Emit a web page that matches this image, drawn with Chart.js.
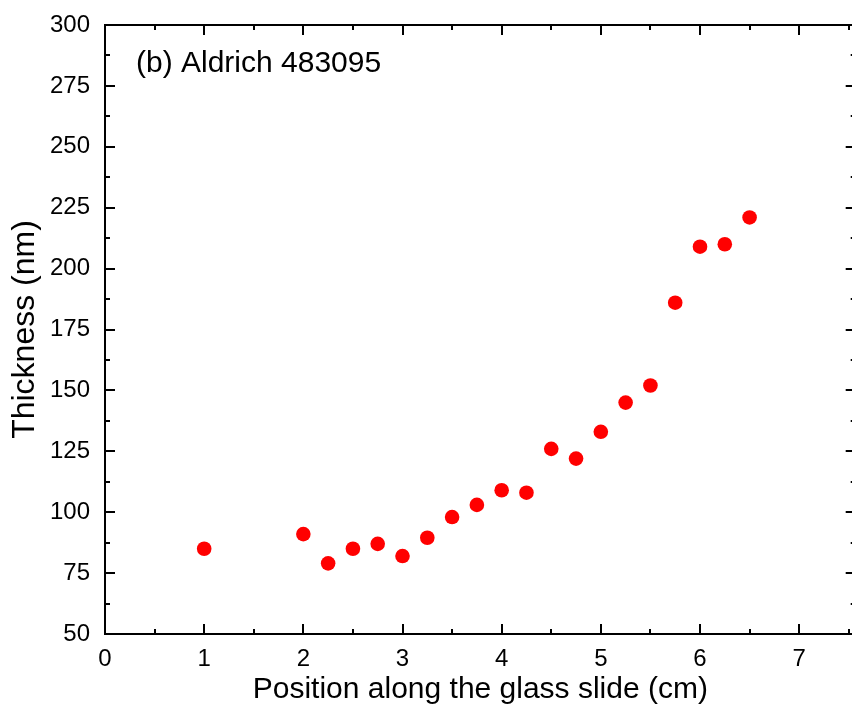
<!DOCTYPE html>
<html>
<head>
<meta charset="utf-8">
<script src="https://cdn.jsdelivr.net/npm/chart.js@4.4.1/dist/chart.umd.min.js"></script>
<style>
  html, body { margin: 0; padding: 0; background: #fff; overflow: hidden; }
  #wrap { width: 852px; height: 722px; overflow: hidden; }
</style>
</head>
<body>
<div id="wrap"><canvas id="thicknessChart" width="863" height="722"></canvas></div>
<script>
// film thickness measured along the slide
const positions = [1, 2, 2.25, 2.5, 2.75, 3, 3.25, 3.5, 3.75, 4, 4.25, 4.5, 4.75, 5, 5.25, 5.5, 5.75, 6, 6.25, 6.5];
const thickness = [85, 91, 79, 85, 87, 82, 89.5, 98, 103, 109, 108, 126, 122, 133, 145, 152, 186, 209, 210, 221];

const xTickLabels = [0, 1, 2, 3, 4, 5, 6, 7];
const yTickLabels = [50, 75, 100, 125, 150, 175, 200, 225, 250, 275, 300];
const panelLabel = "(b) Aldrich 483095";

Chart.defaults.font.family = "'Liberation Sans', Arial, sans-serif";
Chart.defaults.color = "#000";

const ctx = document.getElementById("thicknessChart").getContext("2d");

// box frame with inward major/minor ticks on all four sides
const frameTicks = {
  id: "frameTicks",
  afterDraw(chart) {
    const { ctx, chartArea, scales } = chart;
    const { left, right, top, bottom } = chartArea;
    ctx.save();
    ctx.strokeStyle = "#000";
    ctx.lineWidth = 2;
    ctx.strokeRect(left, top, right - left, bottom - top);
    ctx.beginPath();
    for (let v = 0; v <= 7.5; v += 0.5) {
      const px = Math.round(scales.x.getPixelForValue(v));
      const len = Number.isInteger(v) ? 10 : 5;
      ctx.moveTo(px, bottom);
      ctx.lineTo(px, bottom - len);
      ctx.moveTo(px, top);
      ctx.lineTo(px, top + len);
    }
    for (let v = 50; v <= 300; v += 12.5) {
      const py = Math.round(scales.y.getPixelForValue(v));
      const len = v % 25 === 0 ? 10 : 5;
      ctx.moveTo(left, py);
      ctx.lineTo(left + len, py);
      ctx.moveTo(right, py);
      ctx.lineTo(right - len, py);
    }
    ctx.stroke();

    ctx.font = "30px 'Liberation Sans', Arial, sans-serif";
    ctx.fillStyle = "#000";
    ctx.textBaseline = "middle";
    ctx.fillText(panelLabel, left + 31, top + 39);
    ctx.restore();
  },
};

new Chart(ctx, {
  type: "scatter",
  data: {
    datasets: [
      {
        data: positions.map((p, i) => ({ x: p, y: thickness[i] })),
        backgroundColor: "#ff0000",
        borderWidth: 0,
        pointRadius: 7.3,
        pointHoverRadius: 7.3,
      },
    ],
  },
  options: {
    responsive: false,
    animation: false,
    layout: { padding: { top: 25, right: 4, left: 0, bottom: 0 } },
    plugins: {
      legend: { display: false },
      tooltip: { enabled: false },
    },
    scales: {
      x: {
        type: "linear",
        min: 0,
        max: 7.57,
        afterBuildTicks: (scale) => {
          scale.ticks = xTickLabels.map((v) => ({ value: v }));
        },
        afterFit: (scale) => {
          scale.height = 88;
          scale.paddingLeft = 0;
          scale.paddingRight = 0;
        },
        grid: { display: false, drawTicks: false },
        border: { display: false },
        ticks: { font: { size: 24 }, color: "#000", padding: 11, maxRotation: 0, autoSkip: false },
        title: {
          display: true,
          text: "Position along the glass slide (cm)",
          font: { size: 30 },
          color: "#000",
          padding: { top: 0, bottom: 14 },
        },
      },
      y: {
        min: 50,
        max: 300,
        afterBuildTicks: (scale) => {
          scale.ticks = yTickLabels.map((v) => ({ value: v }));
        },
        afterFit: (scale) => {
          scale.width = 105;
          scale.paddingTop = 0;
          scale.paddingBottom = 0;
        },
        grid: { display: false, drawTicks: false },
        border: { display: false },
        ticks: { font: { size: 24 }, color: "#000", padding: 15 },
        title: {
          display: true,
          text: "Thickness (nm)",
          font: { size: 32 },
          color: "#000",
          padding: { top: 6, bottom: 0 },
        },
      },
    },
  },
  plugins: [frameTicks],
});
</script>
</body>
</html>
